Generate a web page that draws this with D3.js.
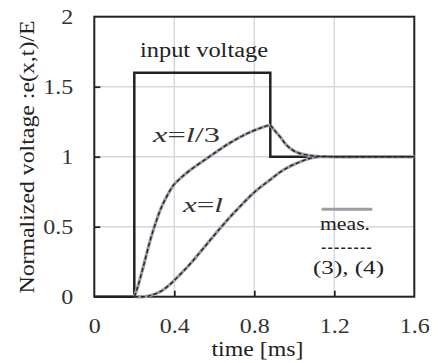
<!DOCTYPE html>
<html>
<head>
<meta charset="utf-8">
<script src="https://cdn.jsdelivr.net/npm/d3@7"></script>
<style>
body { margin: 0; background: #fff; }
svg { display: block; }
</style>
</head>
<body>
<svg id="svg0" width="438" height="363"></svg>
<script>

var width = 438;
var height = 363;

var marginLeft = 94.3;
var marginTop = 16.7;
var plotW = 320;
var plotH = 280;
var serif = 'Liberation Serif';

// data
var xTicks = [0, 0.4, 0.8, 1.2, 1.6];
var yTicks = [0, 0.5, 1, 1.5, 2];
var xTickLabels = ['0', '0.4', '0.8', '1.2', '1.6'];
var yTickLabels = ['0', '0.5', '1', '1.5', '2'];

var inputTime = [0, 0.2, 0.2, 0.88, 0.88, 1.6];
var inputVolt = [0, 0, 1.6, 1.6, 1, 1];

// x = l/3 (peak at 0.88 ms)
var thirdTime = [0.2, 0.215, 0.245, 0.28, 0.31, 0.33, 0.36, 0.395, 0.43, 0.48, 0.55, 0.6, 0.68, 0.76, 0.845, 0.88, 0.9, 0.93, 0.96, 1.0, 1.05, 1.1, 1.2, 1.4, 1.6];
var thirdVolt = [0, 0.06, 0.214, 0.405, 0.54, 0.62, 0.71, 0.795, 0.845, 0.905, 0.975, 1.025, 1.1, 1.163, 1.212, 1.226, 1.19, 1.14, 1.085, 1.04, 1.015, 1.005, 1.0, 1.0, 1.0];

// x = l
var endTime = [0.2, 0.25, 0.28, 0.33, 0.38, 0.43, 0.48, 0.545, 0.63, 0.712, 0.803, 0.878, 0.945, 1.012, 1.08, 1.13, 1.2, 1.4, 1.6];
var endVolt = [0, 0, 0.008, 0.036, 0.09, 0.16, 0.235, 0.345, 0.49, 0.62, 0.75, 0.834, 0.905, 0.953, 0.989, 1.0, 1.0, 1.0, 1.0];

var svg = d3.select('#svg0');

var x = d3.scaleLinear().domain([0, 1.6]).range([marginLeft, marginLeft + plotW]);
var y = d3.scaleLinear().domain([0, 2]).range([marginTop + plotH, marginTop]);

//grid
svg.selectAll('.vgrid')
    .data([0.4, 0.8, 1.2])
    .enter()
    .append('line')
    .attr('x1', function(d){ return x(d); })
    .attr('x2', function(d){ return x(d); })
    .attr('y1', y(0))
    .attr('y2', y(2))
    .attr('stroke', '#d3d7de')
    .attr('stroke-width', 1.5);

svg.selectAll('.hgrid')
    .data([0.5, 1, 1.5])
    .enter()
    .append('line')
    .attr('x1', x(0))
    .attr('x2', x(1.6))
    .attr('y1', function(d){ return y(d); })
    .attr('y2', function(d){ return y(d); })
    .attr('stroke', '#d3d7de')
    .attr('stroke-width', 1.5);

//axes with inward ticks
var xAxis = d3.axisBottom(x)
    .tickValues(xTicks)
    .tickSize(-6)
    .tickPadding(21)
    .tickFormat(function(d, i){ return xTickLabels[i]; });

var yAxis = d3.axisLeft(y)
    .tickValues(yTicks)
    .tickSize(-6)
    .tickPadding(21)
    .tickFormat(function(d, i){ return yTickLabels[i]; });

var gx = svg.append('g')
    .attr('transform', 'translate(0,' + y(0) + ')')
    .call(xAxis);

var gy = svg.append('g')
    .attr('transform', 'translate(' + x(0) + ',0)')
    .call(yAxis);

[gx, gy].forEach(function(g){
    g.select('.domain').remove();
    g.selectAll('line').attr('stroke', '#222').attr('stroke-width', 1.8);
    g.selectAll('text')
        .attr('fill', '#333')
        .attr('font-size', 21)
        .attr('textLength', function(){ return this.textContent.length === 1 ? 12 : 30; })
        .attr('lengthAdjust', 'spacingAndGlyphs');
});
gx.selectAll('.tick').filter(function(d){ return d === 0 || d === 1.6; }).select('line').remove();
gy.selectAll('.tick').filter(function(d){ return d === 0 || d === 2; }).select('line').remove();

//frame
svg.append('rect')
    .attr('x', x(0))
    .attr('y', y(2))
    .attr('width', plotW)
    .attr('height', plotH)
    .attr('fill', 'none')
    .attr('stroke', '#222')
    .attr('stroke-width', 2);

var line = d3.line()
    .x(function(d){ return x(d[0]); })
    .y(function(d){ return y(d[1]); });

var smooth = d3.line()
    .x(function(d){ return x(d[0]); })
    .y(function(d){ return y(d[1]); })
    .curve(d3.curveCatmullRom.alpha(0.5));

var inputPts = d3.zip(inputTime, inputVolt);
var thirdPts = d3.zip(thirdTime, thirdVolt);
var endPts = d3.zip(endTime, endVolt);

svg.append('path')
    .attr('d', line(inputPts))
    .attr('fill', 'none')
    .attr('stroke', '#222')
    .attr('stroke-width', 2.5);

// split l/3 at the peak so the corner stays sharp
var peak = thirdTime.indexOf(0.88);
var pieces = [thirdPts.slice(0, peak + 1), thirdPts.slice(peak), endPts];

pieces.forEach(function(pts){
    svg.append('path')
        .attr('d', smooth(pts))
        .attr('fill', 'none')
        .attr('stroke', '#9a9fa6')
        .attr('stroke-width', 3.2);
});
pieces.forEach(function(pts){
    svg.append('path')
        .attr('d', smooth(pts))
        .attr('fill', 'none')
        .attr('stroke', '#222')
        .attr('stroke-width', 1.4)
        .attr('stroke-dasharray', '4,2.5');
});

//labels
svg.append('text')
    .attr('x', 204)
    .attr('y', 57)
    .attr('text-anchor', 'middle')
    .attr('font-size', 20)
    .attr('fill', '#222')
    .attr('textLength', 128)
    .attr('lengthAdjust', 'spacingAndGlyphs')
    .text('input voltage');

var t1 = svg.append('text')
    .attr('x', 153)
    .attr('y', 141.7)
    .attr('font-size', 20)
    .attr('fill', '#333')
    .attr('textLength', 67)
    .attr('lengthAdjust', 'spacingAndGlyphs');
t1.append('tspan').attr('font-style', 'italic').text('x');
t1.append('tspan').text('=');
t1.append('tspan').attr('font-style', 'italic').text('l');
t1.append('tspan').text('/3');

var t2 = svg.append('text')
    .attr('x', 183)
    .attr('y', 211.7)
    .attr('font-size', 20)
    .attr('fill', '#333')
    .attr('textLength', 40)
    .attr('lengthAdjust', 'spacingAndGlyphs');
t2.append('tspan').attr('font-style', 'italic').text('x');
t2.append('tspan').text('=');
t2.append('tspan').attr('font-style', 'italic').text('l');

//legend
svg.append('line')
    .attr('x1', 321.7).attr('x2', 372.3)
    .attr('y1', 209.3).attr('y2', 209.3)
    .attr('stroke', '#9a9fa6')
    .attr('stroke-width', 3);

svg.append('text')
    .attr('x', 345)
    .attr('y', 230)
    .attr('text-anchor', 'middle')
    .attr('font-size', 19)
    .attr('fill', '#222')
    .attr('textLength', 50)
    .attr('lengthAdjust', 'spacingAndGlyphs')
    .text('meas.');

svg.append('line')
    .attr('x1', 321.7).attr('x2', 372.3)
    .attr('y1', 248.3).attr('y2', 248.3)
    .attr('stroke', '#222')
    .attr('stroke-width', 1.4)
    .attr('stroke-dasharray', '4,2.5');

svg.append('text')
    .attr('x', 348.5)
    .attr('y', 274)
    .attr('text-anchor', 'middle')
    .attr('font-size', 19)
    .attr('fill', '#222')
    .attr('textLength', 71)
    .attr('lengthAdjust', 'spacingAndGlyphs')
    .text('(3), (4)');

//axis titles
svg.append('text')
    .attr('x', 257.5)
    .attr('y', 356)
    .attr('text-anchor', 'middle')
    .attr('font-size', 20)
    .attr('fill', '#222')
    .attr('textLength', 92)
    .attr('lengthAdjust', 'spacingAndGlyphs')
    .text('time [ms]');

svg.append('text')
    .attr('transform', 'translate(34,157) rotate(-90)')
    .attr('text-anchor', 'middle')
    .attr('font-size', 20)
    .attr('fill', '#222')
    .attr('textLength', 273)
    .attr('lengthAdjust', 'spacingAndGlyphs')
    .text('Normalized voltage :e(x,t)/E');

// set the serif face on every text node directly
svg.selectAll('text')
    .attr('font-family', serif)
    .style('font-family', serif);

</script>
</body>
</html>
